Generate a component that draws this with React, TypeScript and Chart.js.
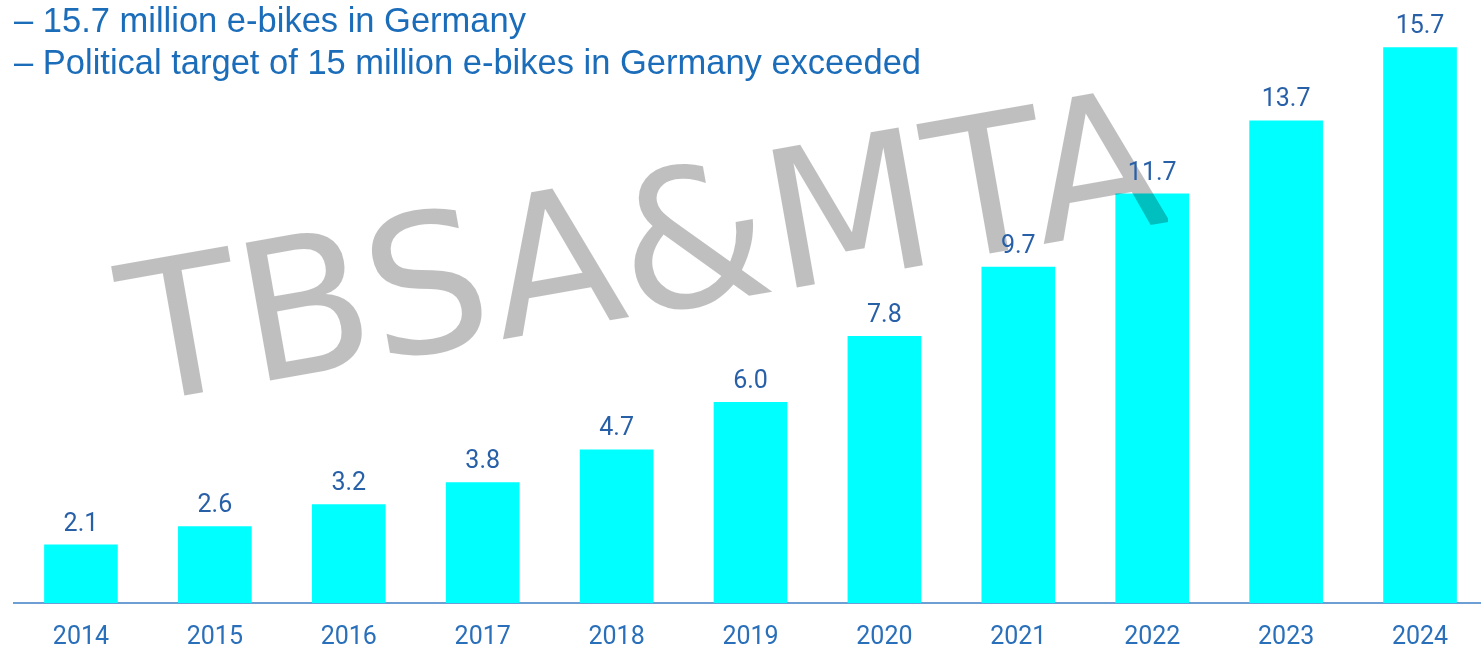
import React, { useEffect, useRef } from "react";
import { Chart, registerables } from "chart.js";

Chart.register(...registerables);

const categories = ["2014", "2015", "2016", "2017", "2018", "2019", "2020", "2021", "2022", "2023", "2024"];
const ebikesMillions = [2.1, 2.6, 3.2, 3.8, 4.7, 6.0, 7.8, 9.7, 11.7, 13.7, 15.7];
const headlineLines = [
  "– 15.7 million e-bikes in Germany",
  "– Political target of 15 million e-bikes in Germany exceeded",
];
const watermarkText = "TBSA&MTA";

const overlayPlugin = {
  id: "overlay",
  afterDatasetsDraw(chart: any) {
    const ctx = chart.ctx;
    ctx.save();
    ctx.beginPath();
    ctx.rect(0, 0, 1168, chart.height);
    ctx.clip();
    ctx.translate(136, 404);
    ctx.rotate((-10 * Math.PI) / 180);
    ctx.font = '400 192px "DejaVu Sans"';
    ctx.fillStyle = "rgba(0,0,0,0.25)";
    ctx.textAlign = "left";
    ctx.textBaseline = "alphabetic";
    ctx.fillText(watermarkText, 0, 0);
    ctx.restore();
  },
  afterDraw(chart: any) {
    const ctx = chart.ctx;
    ctx.save();
    const meta = chart.getDatasetMeta(0);
    ctx.font = "400 25px Roboto";
    ctx.fillStyle = "#2860a8";
    ctx.textAlign = "center";
    ctx.textBaseline = "alphabetic";
    meta.data.forEach((bar: any, i: number) => {
      ctx.fillText(ebikesMillions[i].toFixed(1), bar.x, bar.y - 14);
    });
    ctx.font = '400 34.5px "Liberation Sans"';
    ctx.fillStyle = "#1b6cb9";
    ctx.textAlign = "left";
    ctx.fillText(headlineLines[0], 14, 32);
    ctx.fillText(headlineLines[1], 14, 74);
    ctx.restore();
  },
};

export default function App() {
  const canvasRef = useRef<HTMLCanvasElement | null>(null);

  useEffect(() => {
    if (!canvasRef.current) return;
    const chart = new Chart(canvasRef.current, {
      type: "bar",
      data: {
        labels: categories,
        datasets: [
          {
            data: ebikesMillions,
            backgroundColor: "#00ffff",
            borderWidth: 0,
            categoryPercentage: 1,
            barPercentage: 0.55,
          },
        ],
      },
      options: {
        animation: false,
        responsive: true,
        maintainAspectRatio: false,
        layout: { padding: { left: 14, right: 0, top: 18, bottom: 0 } },
        plugins: {
          legend: { display: false },
          tooltip: { enabled: false },
          title: { display: false },
        },
        scales: {
          x: {
            grid: { display: false, drawTicks: false },
            border: { display: true, color: "#6d9fd4", width: 2 },
            ticks: {
              color: "#2a6fba",
              font: { family: "Roboto", size: 25 },
              padding: 20,
              maxRotation: 0,
              autoSkip: false,
            },
          },
          y: {
            display: false,
            min: 0.5,
            max: 16.5,
          },
        },
      },
      plugins: [overlayPlugin],
    });
    return () => chart.destroy();
  }, []);

  return (
    <div
      style={{
        position: "fixed",
        left: 0,
        top: 0,
        width: 1481,
        height: 647,
        overflow: "hidden",
        background: "#ffffff",
      }}
    >
      <div style={{ position: "relative", width: 1487, height: 673 }}>
        <canvas ref={canvasRef} />
      </div>
    </div>
  );
}
